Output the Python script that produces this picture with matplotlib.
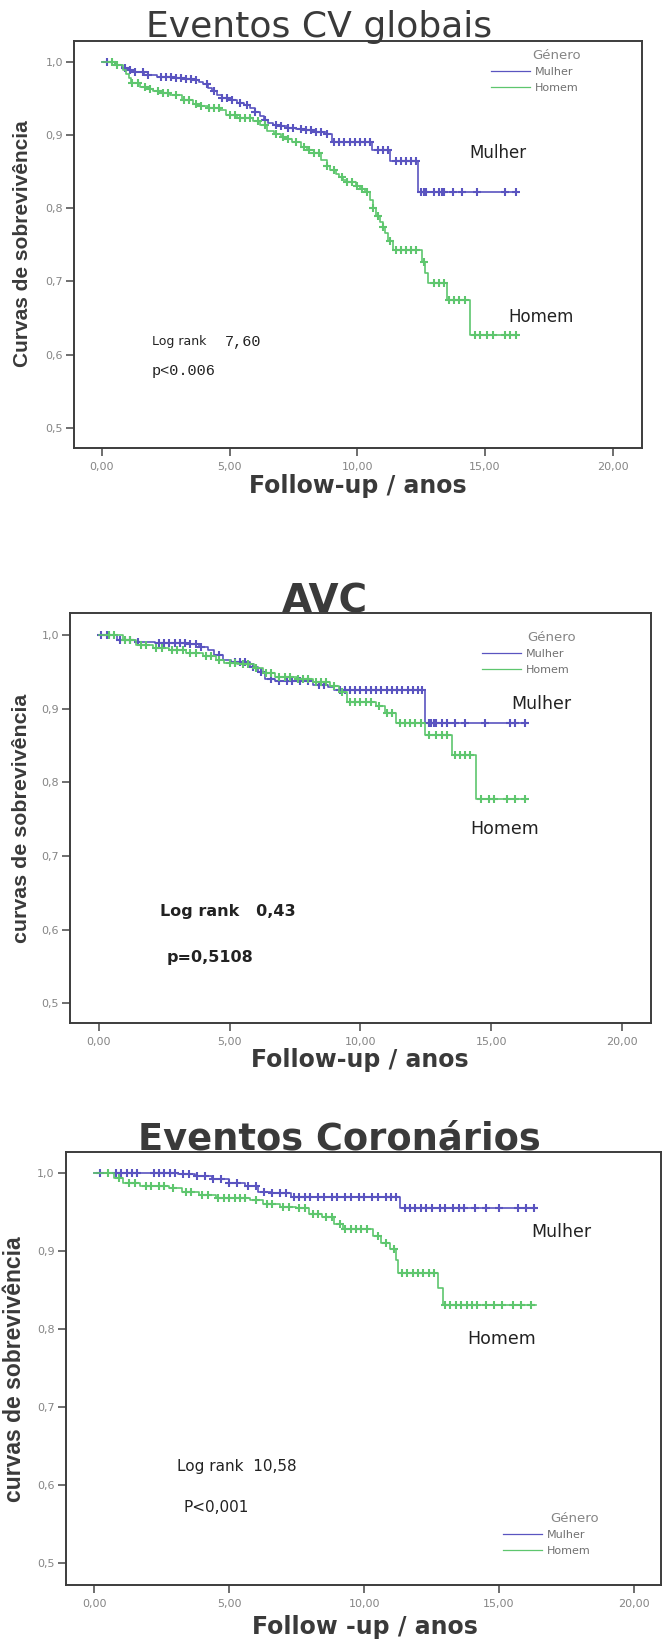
import matplotlib.pyplot as plt
import numpy as np
from matplotlib.lines import Line2D

# curvas de sobrevivencia (Kaplan-Meier) por genero - 3 paineis

# eventos CV globais
cv_mulher_t = [0.0, 0.5, 0.8, 1.0, 1.3, 1.65, 2.15, 2.8, 3.3, 3.6, 3.8, 3.97, 4.15, 4.3, 4.5,
               4.7, 4.97, 5.3, 5.55, 5.8, 6.0, 6.19, 6.35, 6.5, 6.7, 6.95, 7.3, 7.6, 8.0, 8.3,
               8.8, 9.0, 10.57, 11.3, 12.39, 16.3]
cv_mulher_s = [1.0, 0.996, 0.992, 0.989, 0.986, 0.982, 0.980, 0.978, 0.977, 0.975, 0.973,
               0.970, 0.965, 0.960, 0.955, 0.951, 0.948, 0.944, 0.941, 0.937, 0.932, 0.926,
               0.921, 0.917, 0.914, 0.912, 0.910, 0.909, 0.907, 0.905, 0.902, 0.890, 0.880,
               0.865, 0.823, 0.823]
cv_mulher_cens = [0.2, 0.9, 1.1, 1.3, 1.6, 1.8, 2.3, 2.5, 2.7, 2.9, 3.1, 3.3, 3.5, 3.7, 4.1,
                  4.4, 4.7, 4.9, 5.1, 5.4, 5.7, 6.0, 6.4, 6.8, 7.0, 7.3, 7.5, 7.8, 8.0, 8.2,
                  8.4, 8.6, 8.8, 9.1, 9.3, 9.5, 9.7, 9.9, 10.1, 10.3, 10.5, 10.8, 11.0, 11.2,
                  11.5, 11.7, 11.9, 12.1, 12.3, 12.5, 12.6, 12.7, 13.0, 13.2, 13.3, 13.4,
                  13.75, 14.1, 14.7, 15.8, 16.2]
cv_homem_t = [0.0, 0.5, 0.84, 0.95, 1.05, 1.15, 1.5, 1.75, 2.0, 2.35, 2.65, 3.15, 3.58, 3.9,
              4.15, 4.62, 4.85, 5.3, 5.93, 6.2, 6.45, 6.75, 7.0, 7.23, 7.45, 7.8, 8.02, 8.3,
              8.6, 8.8, 8.95, 9.15, 9.3, 9.45, 9.6, 9.95, 10.1, 10.3, 10.5, 10.6, 10.75,
              10.9, 11.0, 11.08, 11.2, 11.4, 12.52, 12.65, 12.77, 13.5, 14.41, 16.24]
cv_homem_s = [1.0, 0.996, 0.989, 0.984, 0.978, 0.972, 0.966, 0.963, 0.961, 0.958, 0.955,
              0.948, 0.943, 0.940, 0.937, 0.935, 0.927, 0.924, 0.919, 0.914, 0.906, 0.901,
              0.897, 0.895, 0.891, 0.884, 0.880, 0.875, 0.866, 0.858, 0.852, 0.847, 0.843,
              0.839, 0.836, 0.831, 0.826, 0.823, 0.811, 0.800, 0.790, 0.782, 0.774, 0.766,
              0.755, 0.743, 0.727, 0.712, 0.698, 0.675, 0.627, 0.627]
cv_homem_cens = [0.4, 0.6, 1.2, 1.4, 1.7, 1.9, 2.2, 2.4, 2.6, 2.9, 3.2, 3.4, 3.7, 3.9, 4.2,
                 4.4, 4.6, 5.0, 5.2, 5.4, 5.6, 5.8, 6.1, 6.4, 6.8, 7.1, 7.3, 7.6, 7.9, 8.1,
                 8.3, 8.5, 8.8, 9.1, 9.4, 9.6, 9.8, 10.0, 10.2, 10.4, 10.6, 10.8, 11.0, 11.3,
                 11.5, 11.7, 11.9, 12.1, 12.3, 12.6, 13.0, 13.2, 13.4, 13.6, 13.8, 14.0,
                 14.2, 14.6, 14.8, 15.1, 15.3, 15.8, 16.0, 16.2]

# AVC
avc_mulher_t = [0.0, 0.68, 1.4, 2.14, 3.35, 3.84, 4.16, 4.4, 4.73, 5.05, 5.78, 6.1, 6.35,
                6.75, 7.56, 8.2, 8.77, 9.0, 12.45, 16.3]
avc_mulher_s = [1.0, 0.993, 0.990, 0.989, 0.988, 0.984, 0.980, 0.973, 0.966, 0.964, 0.957,
                0.950, 0.941, 0.938, 0.937, 0.932, 0.930, 0.925, 0.880, 0.880]
avc_mulher_cens = [0.1, 0.3, 0.8, 1.2, 1.5, 2.3, 2.5, 2.7, 2.9, 3.1, 3.3, 3.5, 3.7, 3.9,
                   4.6, 5.2, 5.4, 5.6, 5.9, 6.2, 6.6, 6.9, 7.2, 7.4, 7.7, 8.0, 8.4, 8.6,
                   9.2, 9.4, 9.6, 9.8, 10.0, 10.2, 10.4, 10.6, 10.8, 11.0, 11.2, 11.4, 11.6,
                   11.8, 12.0, 12.2, 12.35, 12.6, 12.7, 12.8, 12.9, 13.1, 13.3, 13.6, 14.0,
                   14.75, 15.7, 15.9, 16.3]
avc_homem_t = [0.0, 0.92, 1.41, 2.06, 2.7, 3.35, 4.0, 4.48, 4.8, 5.29, 5.93, 6.26, 6.75,
               7.56, 8.2, 8.85, 9.17, 9.5, 10.6, 10.95, 11.36, 12.47, 13.5, 14.43, 16.3]
avc_homem_s = [1.0, 0.993, 0.986, 0.983, 0.980, 0.975, 0.971, 0.966, 0.962, 0.961, 0.955,
               0.948, 0.943, 0.940, 0.936, 0.931, 0.923, 0.909, 0.903, 0.894, 0.880, 0.864,
               0.837, 0.777, 0.777]
avc_homem_cens = [0.4, 0.6, 1.0, 1.2, 1.6, 1.8, 2.2, 2.4, 2.8, 3.0, 3.2, 3.5, 3.7, 4.1,
                  4.3, 4.6, 5.0, 5.2, 5.5, 5.7, 6.0, 6.4, 6.6, 6.9, 7.1, 7.3, 7.6, 7.8, 8.0,
                  8.3, 8.5, 8.7, 9.0, 9.3, 9.6, 9.8, 10.0, 10.2, 10.4, 10.7, 11.0, 11.2,
                  11.5, 11.7, 11.9, 12.1, 12.3, 12.6, 12.9, 13.1, 13.3, 13.6, 13.8, 14.0,
                  14.2, 14.6, 14.9, 15.1, 15.6, 15.9, 16.3]

# eventos coronarios
cor_mulher_t = [0.0, 3.1, 3.73, 4.36, 4.98, 5.6, 6.08, 6.55, 7.3, 11.33, 16.36]
cor_mulher_s = [1.0, 0.999, 0.996, 0.992, 0.987, 0.983, 0.976, 0.975, 0.970, 0.955, 0.955]
cor_mulher_cens = [0.2, 0.8, 1.0, 1.2, 1.4, 1.6, 2.2, 2.4, 2.6, 2.8, 3.0, 3.3, 3.5, 3.8,
                   4.1, 4.4, 4.7, 5.0, 5.3, 5.7, 6.0, 6.3, 6.6, 6.9, 7.1, 7.4, 7.6, 7.8,
                   8.0, 8.3, 8.5, 8.8, 9.0, 9.3, 9.5, 9.8, 10.0, 10.3, 10.5, 10.8, 11.0,
                   11.2, 11.5, 11.7, 11.9, 12.1, 12.3, 12.5, 12.8, 13.0, 13.3, 13.5, 13.7,
                   14.1, 14.5, 15.0, 15.7, 16.0, 16.3]
cor_homem_t = [0.0, 0.74, 1.06, 1.69, 2.78, 3.25, 3.88, 4.5, 5.77, 6.24, 6.87, 7.49, 7.96,
               8.43, 8.9, 9.22, 10.32, 10.63, 10.95, 11.18, 11.26, 12.75, 12.91, 16.36]
cor_homem_s = [1.0, 0.994, 0.987, 0.983, 0.981, 0.976, 0.972, 0.968, 0.966, 0.961, 0.957,
               0.955, 0.948, 0.944, 0.935, 0.929, 0.920, 0.911, 0.903, 0.889, 0.872, 0.853,
               0.831, 0.831]
cor_homem_cens = [0.5, 0.9, 1.3, 1.5, 1.9, 2.1, 2.4, 2.6, 2.9, 3.4, 3.6, 4.0, 4.2, 4.6,
                  4.8, 5.0, 5.2, 5.4, 5.6, 6.0, 6.4, 6.6, 7.0, 7.2, 7.6, 7.8, 8.1, 8.3,
                  8.6, 8.8, 9.1, 9.3, 9.5, 9.7, 9.9, 10.1, 10.5, 10.8, 11.1, 11.4, 11.6,
                  11.8, 12.0, 12.2, 12.4, 12.6, 13.0, 13.2, 13.4, 13.6, 13.8, 14.0, 14.2,
                  14.5, 14.8, 15.1, 15.5, 15.8, 16.2]

y_ticks = [0.5, 0.6, 0.7, 0.8, 0.9, 1.0]
y_tick_labels = ['0,5', '0,6', '0,7', '0,8', '0,9', '1,0']
x_ticks = [0, 5, 10, 15, 20]
x_tick_labels = ['0,00', '5,00', '10,00', '15,00', '20,00']
grupos = ['Mulher', 'Homem']

cor_m = '#5a54c0'
cor_h = '#5ec66e'
cinza = '#3a3a3a'

plt.rcParams['font.family'] = ['DejaVu Sans']

fig = plt.figure(figsize=(6.62, 16.39), dpi=100)


def curva(ax, t, s, cens, cor):
    ax.step(t, s, where='post', color=cor, lw=1.2)
    idx = np.searchsorted(t, cens, side='right') - 1
    ax.plot(cens, np.array(s)[idx], ls='none', marker='+', color=cor, ms=6, mew=1.5)


def eixos(ax, xlim, ylim):
    ax.set_xlim(xlim)
    ax.set_ylim(ylim)
    ax.set_xticks(x_ticks)
    ax.set_xticklabels(x_tick_labels)
    ax.set_yticks(y_ticks)
    ax.set_yticklabels(y_tick_labels)
    ax.tick_params(direction='out', length=6, width=1.2, color='#555555',
                   labelcolor='#858585', labelsize=8, pad=2)
    ax.tick_params(axis='x', length=6, pad=4)
    for sp in ax.spines.values():
        sp.set_color('#3c3c3c')
        sp.set_linewidth(1.4)


def legenda(ax, x, y, tx, ty):
    h = [Line2D([], [], color=cor_m, lw=0.9), Line2D([], [], color=cor_h, lw=0.9)]
    ax.legend(h, grupos, loc='upper left', bbox_to_anchor=(x, y), frameon=False,
              fontsize=8, handlelength=3.5, handletextpad=0.45, labelspacing=0.5,
              borderpad=0, borderaxespad=0, labelcolor='#707070')
    ax.text(tx, ty, 'Género', transform=ax.transAxes, fontsize=9.5, color='#858585',
            va='center')


# ---------- painel 1 ----------
ax1 = fig.add_axes([0.1118, 0.7268, 0.858, 0.2483])
curva(ax1, cv_mulher_t, cv_mulher_s, cv_mulher_cens, cor_m)
curva(ax1, cv_homem_t, cv_homem_s, cv_homem_cens, cor_h)
eixos(ax1, (-1.09, 21.15), (0.4727, 1.029))
legenda(ax1, 0.734, 0.935, 0.806, 0.965)
ax1.text(15.5, 0.876, 'Mulher', fontsize=12, color='#222222', ha='center', va='center')
ax1.text(17.2, 0.652, 'Homem', fontsize=12, color='#222222', ha='center', va='center')
ax1.text(1.96, 0.6175, 'Log rank', fontsize=9, color='#222222', va='center')
ax1.text(4.82, 0.6175, '7,60', fontsize=11, family='Liberation Mono', color='#222222',
         va='center')
ax1.text(1.96, 0.578, 'p<0.006', fontsize=11, family='Liberation Mono', color='#222222',
         va='center')
fig.text(0.482, 0.9774, 'Eventos CV globais', fontsize=26, color=cinza, ha='center',
         va='baseline')
fig.text(0.0347, 0.8511, 'Curvas de sobrevivência', fontsize=15, fontweight='bold',
         family='Liberation Sans', color=cinza, rotation=90, ha='center', va='center')
fig.text(0.5408, 0.6992, 'Follow-up / anos', fontsize=17, fontweight='bold', color=cinza,
         ha='center', va='baseline')

# ---------- painel 2 ----------
ax2 = fig.add_axes([0.1057, 0.3758, 0.8776, 0.2502])
curva(ax2, avc_mulher_t, avc_mulher_s, avc_mulher_cens, cor_m)
curva(ax2, avc_homem_t, avc_homem_s, avc_homem_cens, cor_h)
eixos(ax2, (-1.10, 21.1), (0.473, 1.030))
legenda(ax2, 0.709, 0.912, 0.787, 0.941)
ax2.text(16.9, 0.906, 'Mulher', fontsize=12.5, color='#222222', ha='center', va='center')
ax2.text(15.5, 0.736, 'Homem', fontsize=12.5, color='#222222', ha='center', va='center')
ax2.text(2.34, 0.625, 'Log rank   0,43', fontsize=11.5, fontweight='bold', color='#222222',
         va='center')
ax2.text(2.61, 0.5625, 'p=0,5108', fontsize=11.5, fontweight='bold', color='#222222',
         va='center')
fig.text(0.490, 0.626, 'AVC', fontsize=28, fontweight='bold', color=cinza, ha='center',
         va='baseline')
fig.text(0.0325, 0.5009, 'curvas de sobrevivência', fontsize=15.4, fontweight='bold',
         family='Liberation Sans', color=cinza, rotation=90, ha='center', va='center')
fig.text(0.5438, 0.349, 'Follow-up / anos', fontsize=17, fontweight='bold', color=cinza,
         ha='center', va='baseline')

# ---------- painel 3 ----------
ax3 = fig.add_axes([0.0992, 0.0329, 0.8992, 0.2642])
curva(ax3, cor_mulher_t, cor_mulher_s, cor_mulher_cens, cor_m)
curva(ax3, cor_homem_t, cor_homem_s, cor_homem_cens, cor_h)
eixos(ax3, (-1.06, 21.0), (0.472, 1.027))
legenda(ax3, 0.7346, 0.127, 0.8135, 0.1547)
ax3.text(17.3, 0.924, 'Mulher', fontsize=12.5, color='#222222', ha='center', va='center')
ax3.text(15.1, 0.787, 'Homem', fontsize=12.5, color='#222222', ha='center', va='center')
ax3.text(3.06, 0.6244, 'Log rank  10,58', fontsize=11, color='#222222', va='center')
ax3.text(3.29, 0.572, 'P<0,001', fontsize=11, color='#222222', va='center')
fig.text(0.512, 0.2984, 'Eventos Coronários', fontsize=26.5, fontweight='bold', color=cinza,
         ha='center', va='baseline')
fig.text(0.0219, 0.1647, 'curvas de sobrevivência', fontsize=16.5, fontweight='bold',
         family='Liberation Sans', color=cinza, rotation=90, ha='center', va='center')
fig.text(0.5514, 0.0030, 'Follow -up / anos', fontsize=17, fontweight='bold', color=cinza,
         ha='center', va='baseline')

fig.savefig('out.png', dpi=100)
